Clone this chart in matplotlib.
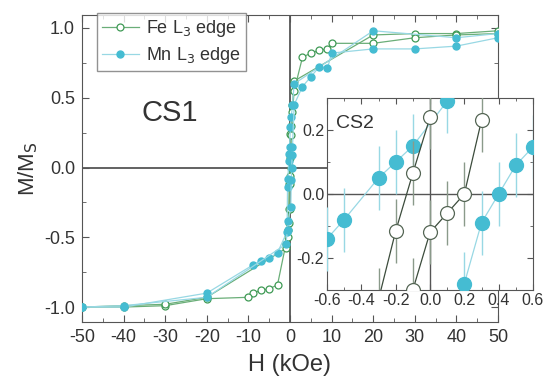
import matplotlib
matplotlib.use("Agg")
import matplotlib.pyplot as plt
from matplotlib.ticker import MultipleLocator

plt.rcParams['font.family'] = ['Liberation Sans', 'DejaVu Sans']
plt.rcParams['axes.unicode_minus'] = False

# main loop, Fe L3 edge (descending and ascending branches)
fe_h_down = [50, 40, 30, 20, 1, 0.6, 0.3, 0.0, -0.1, -0.2, -0.3,
             -0.6, -1, -3, -5, -7, -9, -10, -20, -30, -40, -50]
fe_m_down = [0.98, 0.96, 0.96, 0.95, 0.62, 0.45, 0.30,
             0.24, 0.065, -0.116, -0.30, -0.45, -0.55, -0.84, -0.87, -0.88, -0.90,
             -0.93, -0.94, -0.99, -1.0, -1.0]
fe_h_up = [-50, -40, -30, -20, -1, -0.6, -0.3, -0.1, 0.0, 0.1, 0.2, 0.3,
           0.6, 1, 3, 5, 7, 9, 10, 20, 30, 40, 50]
fe_m_up = [-1.0, -0.99, -0.98, -0.93, -0.58, -0.50, -0.40, -0.30,
           -0.12, -0.06, 0.0, 0.23, 0.40, 0.55, 0.79, 0.82, 0.84, 0.85, 0.89, 0.89, 0.93,
           0.95, 0.96]

# main loop, Mn L3 edge
mn_h_down = [50, 40, 20, 1, 0.6, 0.3, 0.1, -0.1, -0.2, -0.3, -0.5, -0.6,
             -0.7, -3, -5, -7, -9, -20, -40, -50]
mn_m_down = [0.96, 0.93, 0.98, 0.60, 0.45, 0.36, 0.29, 0.15,
             0.10, 0.05, -0.08, -0.14, -0.46, -0.61, -0.65, -0.67, -0.70, -0.90, -1.0,
             -1.0]
mn_h_up = [-50, -40, -20, -1, -0.6, -0.4, 0.2, 0.3, 0.4, 0.5, 0.6, 1, 3,
           5, 7, 9, 10, 20, 30, 40, 50]
mn_m_up = [-1.0, -0.99, -0.93, -0.55, -0.45, -0.38, -0.28, -0.09,
           0.0, 0.09, 0.147, 0.45, 0.58, 0.65, 0.72, 0.71, 0.82, 0.85, 0.85, 0.87, 0.93]

# inset CS2 (low field, kOe)
cs2_fe_h_down = [-0.3, -0.2, -0.1, 0.0]
cs2_fe_m_down = [-0.33, -0.116, 0.065, 0.24]
cs2_fe_h_up = [-0.1, 0.0, 0.1, 0.2, 0.3]
cs2_fe_m_up = [-0.30, -0.12, -0.06, 0.0, 0.23]
cs2_mn_h_down = [-0.6, -0.5, -0.3, -0.2, -0.1, 0.1]
cs2_mn_m_down = [-0.14, -0.08, 0.05, 0.10, 0.15, 0.29]
cs2_mn_h_up = [0.2, 0.3, 0.4, 0.5, 0.6]
cs2_mn_m_up = [-0.28, -0.09, 0.0, 0.09, 0.147]
cs2_err = 0.1

fe_col = '#3f9a55'
fe_line = '#6aae78'
mn_col = '#45bcd2'
mn_line = '#98d8e4'
txt = '#333333'
ax_col = '#555555'

fig = plt.figure(figsize=(5.44, 3.84), dpi=100)
ax = fig.add_axes([82/544, 62/384, 416/544, 307/384])

ax.axhline(0, color=ax_col, lw=1.3, zorder=1)
ax.axvline(0, color=ax_col, lw=1.3, zorder=1)

ax.plot(fe_h_down, fe_m_down, '-o', color=fe_line, mfc='white', mec=fe_col,
        ms=5, lw=0.9, mew=0.9, label='Fe L$_3$ edge', zorder=3)
ax.plot(fe_h_up, fe_m_up, '-o', color=fe_line, mfc='white', mec=fe_col,
        ms=5, lw=0.9, mew=0.9, zorder=3)
ax.plot(mn_h_down, mn_m_down, '-o', color=mn_line, mfc=mn_col, mec=mn_col,
        ms=5, lw=0.9, label='Mn L$_3$ edge', zorder=4)
ax.plot(mn_h_up, mn_m_up, '-o', color=mn_line, mfc=mn_col, mec=mn_col,
        ms=5, lw=0.9, zorder=4)

ax.set_xlim(-50, 50)
ax.set_ylim(-1.107, 1.093)
ax.xaxis.set_major_locator(MultipleLocator(10))
ax.xaxis.set_minor_locator(MultipleLocator(5))
ax.yaxis.set_major_locator(MultipleLocator(0.5))
ax.yaxis.set_minor_locator(MultipleLocator(0.25))
ax.yaxis.set_major_formatter(plt.FormatStrFormatter('%.1f'))
ax.tick_params(which='both', direction='in', top=True, right=True, colors=ax_col,
               labelcolor=txt, labelsize=13)
ax.tick_params(which='major', length=5, pad=5)
ax.tick_params(which='minor', length=3)
for s in ax.spines.values():
    s.set_color(ax_col)
ax.set_xlabel('H (kOe)', fontsize=17, color=txt, labelpad=6)
ax.set_ylabel('M/M$_\\mathrm{S}$', fontsize=16, color=txt, labelpad=3)
ax.text(-29, 0.39, 'CS1', fontsize=21, color=txt, ha='center', va='center')

leg = ax.legend(loc='upper left', bbox_to_anchor=(97/544, 1 - 13/384),
                bbox_transform=fig.transFigure, fontsize=13, frameon=True,
                fancybox=False, edgecolor='#777777', handlelength=2,
                borderpad=0.3, labelspacing=0.3, handletextpad=0.4,
                borderaxespad=0)
leg.get_frame().set_linewidth(1.0)
for t in leg.get_texts():
    t.set_color(txt)

# inset
ins = fig.add_axes([327/544, 94/384, 206/544, 192/384])
ins.set_facecolor('white')
ins.axhline(0, color=ax_col, lw=1.0, zorder=1)
ins.axvline(0, color=ax_col, lw=1.0, zorder=1)
ins.errorbar(cs2_mn_h_down, cs2_mn_m_down, yerr=cs2_err, fmt='-o', color=mn_line,
             ecolor=mn_line, mfc=mn_col, mec=mn_col, ms=10, lw=0.9, elinewidth=1.0,
             zorder=3)
ins.errorbar(cs2_mn_h_up, cs2_mn_m_up, yerr=cs2_err, fmt='-o', color=mn_line,
             ecolor=mn_line, mfc=mn_col, mec=mn_col, ms=10, lw=0.9, elinewidth=1.0,
             zorder=3)
ins.errorbar(cs2_fe_h_down, cs2_fe_m_down, yerr=cs2_err, fmt='-o', color='#3c4c3c',
             ecolor='#8a9a8a', mfc='white', mec='#556655', ms=10, lw=0.9,
             elinewidth=1.0, mew=0.9, zorder=4)
ins.errorbar(cs2_fe_h_up, cs2_fe_m_up, yerr=cs2_err, fmt='-o', color='#3c4c3c',
             ecolor='#8a9a8a', mfc='white', mec='#556655', ms=10, lw=0.9,
             elinewidth=1.0, mew=0.9, zorder=4)
ins.set_xlim(-0.6, 0.6)
ins.set_ylim(-0.3, 0.3)
ins.xaxis.set_major_locator(MultipleLocator(0.2))
ins.xaxis.set_minor_locator(MultipleLocator(0.1))
ins.yaxis.set_major_locator(MultipleLocator(0.2))
ins.yaxis.set_minor_locator(MultipleLocator(0.1))
ins.xaxis.set_major_formatter(plt.FormatStrFormatter('%.1f'))
ins.yaxis.set_major_formatter(plt.FormatStrFormatter('%.1f'))
ins.tick_params(which='both', direction='in', top=True, right=True, colors=ax_col,
                labelcolor=txt, labelsize=11.5, pad=2)
ins.tick_params(which='major', length=4)
ins.tick_params(which='minor', length=2)
for s in ins.spines.values():
    s.set_color(ax_col)
ins.text(-0.44, 0.22, 'CS2', fontsize=14, color=txt, ha='center', va='center')

fig.savefig('out.png', dpi=100)
